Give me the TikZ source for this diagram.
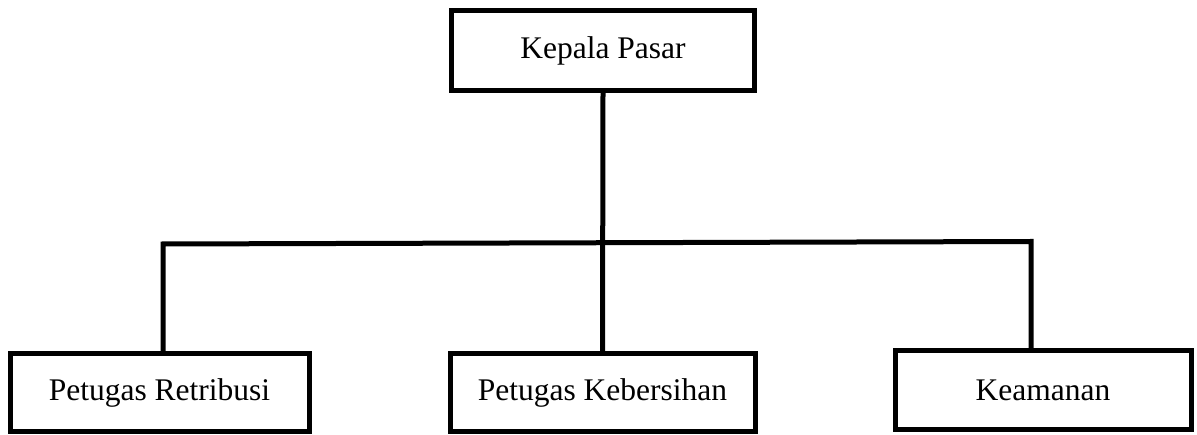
\documentclass[tikz,border=0pt]{standalone}
\usepackage{fontspec}
\setmainfont{Liberation Serif}
\begin{document}
\begin{tikzpicture}[x=1pt,y=-1pt,
  orgbox/.style={draw=black, line width=5pt, rectangle, inner sep=0pt, fill=white,
    font=\fontsize{31.5}{36}\selectfont},
  link/.style={draw=black, line width=5pt, line join=miter}]
\useasboundingbox (0,0) rectangle (1197,435);
\node[orgbox, minimum width=303pt, minimum height=80pt] (kp) at (603,50.5) {Kepala Pasar};
\node[orgbox, minimum width=299pt, minimum height=78pt] (pr) at (159.5,393) {Petugas Retribusi};
\node[orgbox, minimum width=305pt, minimum height=78pt] (pk) at (602.5,393) {Petugas Kebersihan};
\node[orgbox, minimum width=296pt, minimum height=79pt] (km) at (1043,390.5) {Keamanan};
\coordinate (hl) at (163,244);
\coordinate (hr) at (1031,241.5);
\draw[link] (kp.south) -- (pk.north);
\draw[link] (hl |- pr.north) -- (hl) -- (hr) -- (hr |- km.north);
\end{tikzpicture}
\end{document}
